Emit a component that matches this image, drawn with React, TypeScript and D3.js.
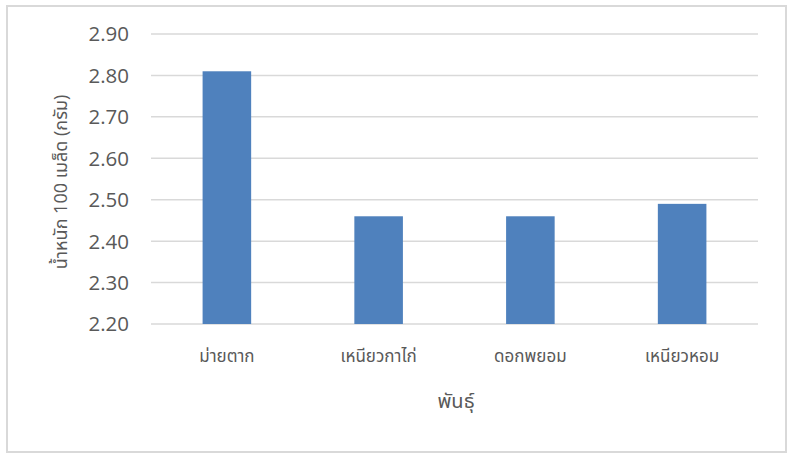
import React from "react";
import * as d3 from "d3";

// Rice varieties and their 100-grain weights (g)
const varieties: string[] = ["ม่ายตาก", "เหนียวกาไก่", "ดอกพยอม", "เหนียวหอม"];
const grainWeights: number[] = [2.81, 2.46, 2.46, 2.49];
const yTicks: number[] = [2.2, 2.3, 2.4, 2.5, 2.6, 2.7, 2.8, 2.9];

const yTitle = "น้ำหนัก 100 เมล็ด (กรัม)";
const xTitle = "พันธุ์";

const W = 789;
const H = 454;
const FONT = "'Open Sans', 'Noto Sans', 'Noto Sans Thai', sans-serif";

export default function App() {
  const plot = { left: 151, right: 758, top: 34, bottom: 324 };

  const x = d3
    .scaleBand<string>()
    .domain(varieties)
    .range([plot.left, plot.right])
    .paddingInner(0.68)
    .paddingOuter(0.34);

  const y = d3.scaleLinear().domain([2.2, 2.9]).range([plot.bottom, plot.top]);

  return (
    <svg
      width={W}
      height={H}
      style={{ position: "absolute", left: 0, top: 0, background: "#fff" }}
      fontFamily={FONT}
    >
      <rect x={7} y={6} width={779} height={446} fill="#fff" stroke="#d9d9d9" strokeWidth={2} />

      {yTicks.map((t) => (
        <g key={t}>
          <line
            x1={plot.left}
            x2={plot.right}
            y1={y(t)}
            y2={y(t)}
            stroke="#d9d9d9"
            strokeWidth={1.5}
          />
          <text
            x={129}
            y={y(t)}
            dy="0.36em"
            textAnchor="end"
            fontSize={20.5}
            fill="#595959"
          >
            {t.toFixed(2)}
          </text>
        </g>
      ))}

      {varieties.map((v, i) => (
        <rect
          key={v}
          x={x(v)}
          y={y(grainWeights[i])}
          width={x.bandwidth()}
          height={y(2.2) - y(grainWeights[i])}
          fill="#4f81bd"
        />
      ))}

      {varieties.map((v) => (
        <text
          key={v}
          x={(x(v) as number) + x.bandwidth() / 2}
          y={356}
          dy="0.35em"
          textAnchor="middle"
          fontSize={17}
          fill="#595959"
        >
          {v}
        </text>
      ))}

      <text
        x={456}
        y={401}
        dy="0.35em"
        textAnchor="middle"
        fontSize={20}
        fill="#595959"
      >
        {xTitle}
      </text>

      <text
        transform={`translate(61, 182) rotate(-90)`}
        dy="0.35em"
        textAnchor="middle"
        fontSize={18}
        fill="#595959"
      >
        {yTitle}
      </text>
    </svg>
  );
}
